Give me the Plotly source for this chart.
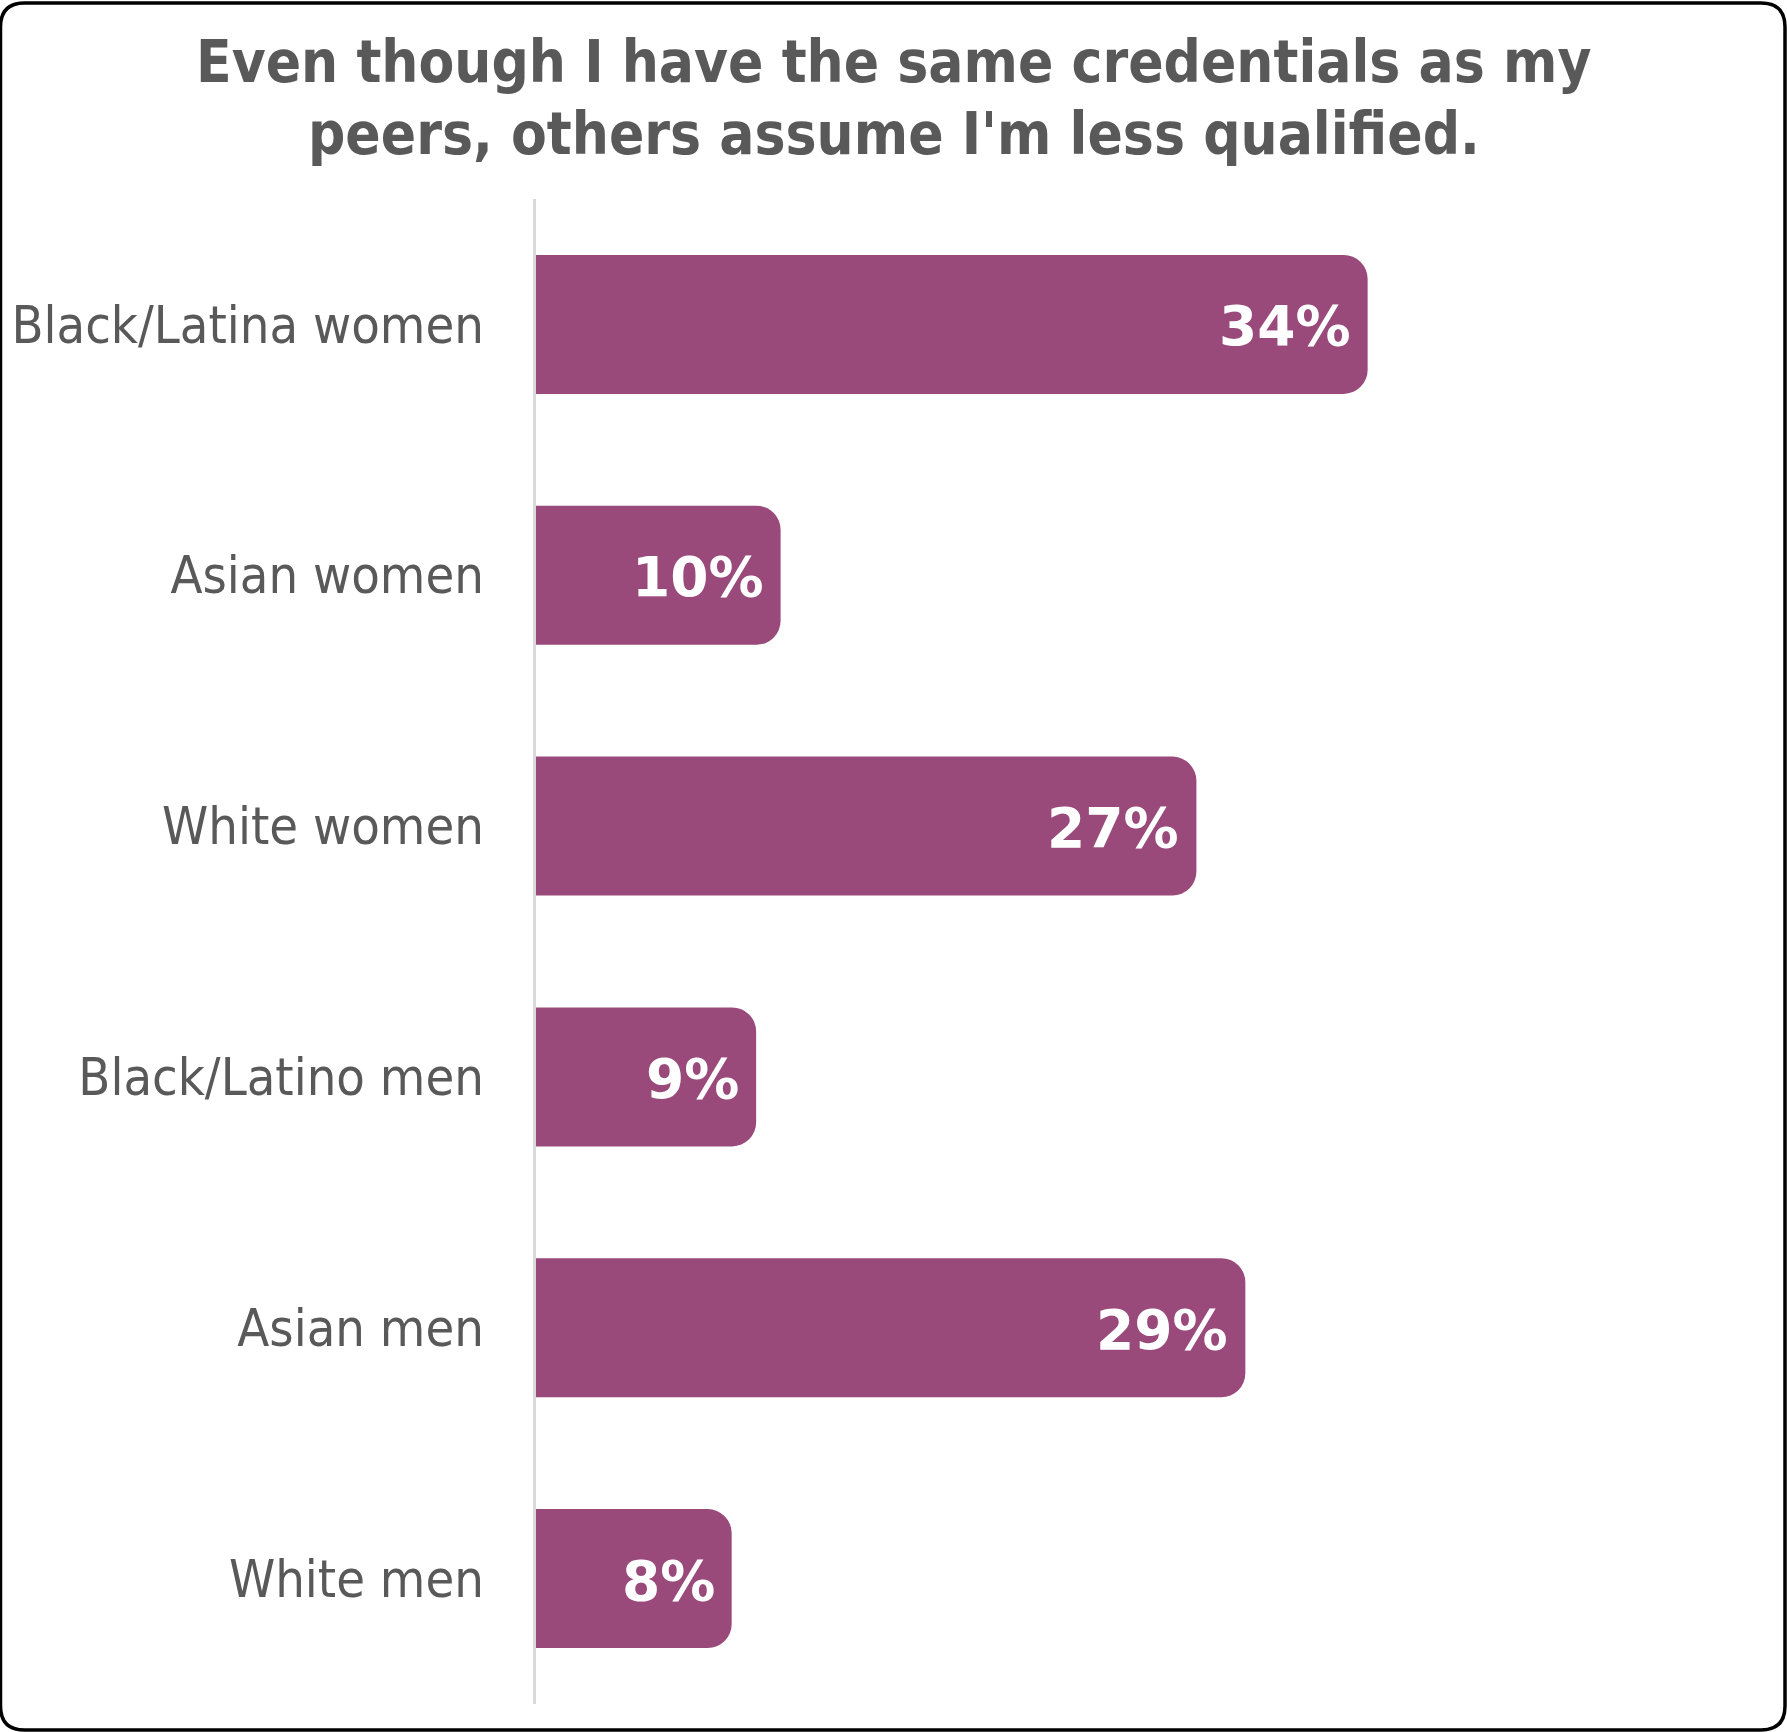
import plotly.graph_objects as go

# Survey responses: share agreeing with the statement, by group
groups = ["Black/Latina women", "Asian women", "White women",
          "Black/Latino men", "Asian men", "White men"]
shares = [34, 10, 27, 9, 29, 8]
value_labels = ["34%", "10%", "27%", "9%", "29%", "8%"]

title_lines = ["Even though I have the same credentials as my",
               "peers, others assume I'm less qualified."]

W, H = 1787, 1732
ML, MR, MT, MB = 536, 28, 199, 28
PW, PH = W - ML - MR, H - MT - MB
BAR_COLOR = "#994A7A"
TEXT_GRAY = "#595959"
FONT = "DejaVu Sans Condensed"
FONT_WIDE = "DejaVu Sans"


def px_to_paper(px, py):
    return (px - ML) / PW, (H - MB - py) / PH


fig = go.Figure(go.Bar(
    x=shares,
    y=groups,
    orientation="h",
    marker=dict(color=BAR_COLOR, cornerradius=24, line=dict(width=0)),
    hoverinfo="skip",
))

# value labels right-aligned inside each bar end
for g, v, lab in zip(groups, shares, value_labels):
    fig.add_annotation(
        x=v, y=g, xref="x", yref="y", text=f"<b>{lab}</b>",
        showarrow=False, xanchor="right", yanchor="middle", xshift=-15, yshift=-2,
        font=dict(family=FONT_WIDE, size=55, color="white"),
    )

# two-line bold heading, centred on the page
for line, center_y in zip(title_lines, [62, 134]):
    tx, ty = px_to_paper(W / 2, center_y)
    fig.add_annotation(
        x=tx, xref="paper", y=ty, yref="paper",
        text=f"<b>{line}</b>", showarrow=False,
        xanchor="center", yanchor="middle",
        font=dict(family=FONT, size=58, color=TEXT_GRAY),
    )

# rounded frame around the whole chart
x0, y0, x1, y1, r = 0.5, 3, 1785, 1730, 24
def P(px, py):
    a, b = px_to_paper(px, py)
    return f"{a:.5f},{b:.5f}"
path = (f"M {P(x0 + r, y0)} L {P(x1 - r, y0)} Q {P(x1, y0)} {P(x1, y0 + r)} "
        f"L {P(x1, y1 - r)} Q {P(x1, y1)} {P(x1 - r, y1)} "
        f"L {P(x0 + r, y1)} Q {P(x0, y1)} {P(x0, y1 - r)} "
        f"L {P(x0, y0 + r)} Q {P(x0, y0)} {P(x0 + r, y0)} Z")
fig.add_shape(type="path", path=path, xref="paper", yref="paper",
              line=dict(color="black", width=3.5), layer="above")

fig.update_layout(
    width=W, height=H,
    margin=dict(l=ML, r=MR, t=MT, b=MB),
    paper_bgcolor="white", plot_bgcolor="white",
    bargap=0.446,
    showlegend=False,
    xaxis=dict(range=[0, 50], visible=False, fixedrange=True),
    yaxis=dict(
        categoryorder="array", categoryarray=groups[::-1],
        showline=True, linecolor="#d9d9d9", linewidth=2.5,
        showgrid=False, zeroline=False, ticks="",
        ticklabelstandoff=39,
        tickfont=dict(family=FONT, size=52, color=TEXT_GRAY),
        fixedrange=True,
    ),
    font=dict(family=FONT, color=TEXT_GRAY),
)

fig.write_html("out.html", config={"displayModeBar": False})
